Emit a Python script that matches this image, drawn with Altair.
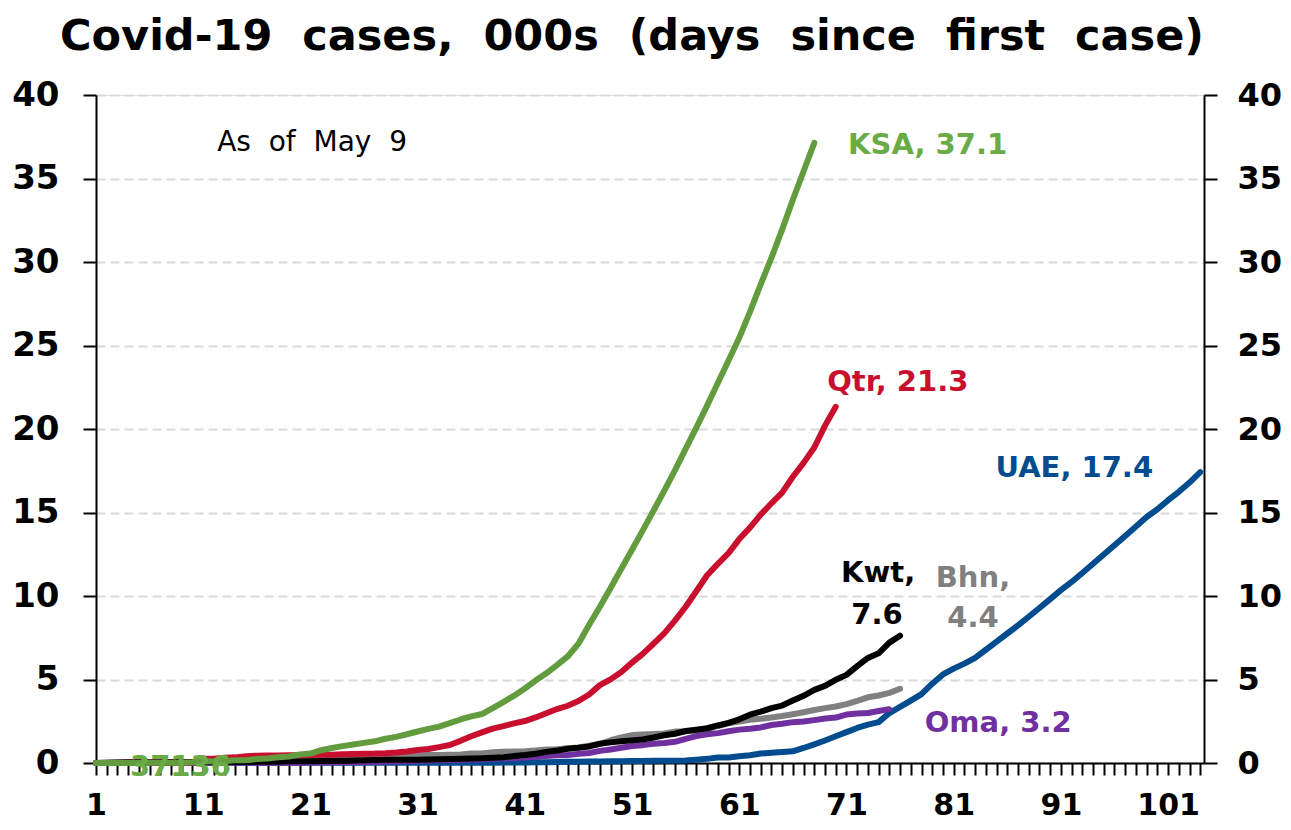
import altair as alt
import pandas as pd

# ---------------- data (thousands of cases, by day since first case) ----------------
ksa = [0.001, 0.001, 0.005, 0.005, 0.005, 0.011, 0.015, 0.020, 0.021, 0.045,
       0.086, 0.103, 0.118, 0.171, 0.171, 0.238, 0.274, 0.344, 0.392, 0.511,
       0.562, 0.767, 0.900, 1.012, 1.104, 1.203, 1.299, 1.453, 1.563, 1.720,
       1.885, 2.039, 2.179, 2.385, 2.605, 2.795, 2.932, 3.287, 3.651, 4.033,
       4.462, 4.934, 5.369, 5.862, 6.380, 7.142, 8.274, 9.362, 10.484, 11.631,
       12.772, 13.930, 15.102, 16.299, 17.522, 18.811, 20.077, 21.402, 22.753, 24.097,
       25.459, 27.011, 28.656, 30.251, 31.938, 33.731, 35.432, 37.136]

qtr = [0.001, 0.003, 0.007, 0.008, 0.008, 0.008, 0.015, 0.015, 0.018, 0.024,
       0.262, 0.262, 0.320, 0.337, 0.401, 0.439, 0.442, 0.452, 0.460, 0.470,
       0.481, 0.494, 0.501, 0.526, 0.537, 0.549, 0.562, 0.590, 0.634, 0.693,
       0.781, 0.835, 0.949, 1.075, 1.325, 1.604, 1.832, 2.057, 2.210, 2.376,
       2.512, 2.728, 2.979, 3.231, 3.428, 3.711, 4.103, 4.663, 5.008, 5.448,
       6.015, 6.533, 7.141, 7.764, 8.525, 9.358, 10.287, 11.244, 11.921, 12.564,
       13.409, 14.096, 14.872, 15.551, 16.191, 17.142, 17.972, 18.890, 20.201, 21.331]

uae = [0.004, 0.004, 0.005, 0.005, 0.005, 0.005, 0.005, 0.005, 0.005, 0.005,
       0.007, 0.007, 0.008, 0.008, 0.008, 0.008, 0.008, 0.008, 0.008, 0.008,
       0.009, 0.009, 0.009, 0.009, 0.009, 0.009, 0.013, 0.013, 0.013, 0.013,
       0.013, 0.013, 0.019, 0.019, 0.019, 0.021, 0.021, 0.021, 0.027, 0.027,
       0.029, 0.045, 0.045, 0.059, 0.074, 0.074, 0.085, 0.085, 0.098, 0.098,
       0.113, 0.113, 0.140, 0.140, 0.140, 0.153, 0.198, 0.248, 0.333, 0.333,
       0.405, 0.468, 0.570, 0.611, 0.664, 0.700, 0.900, 1.120, 1.350, 1.600,
       1.850, 2.100, 2.300, 2.450, 2.990, 3.360, 3.736, 4.123, 4.750, 5.300,
       5.650, 5.950, 6.300, 6.781, 7.265, 7.755, 8.238, 8.756, 9.281, 9.813,
       10.349, 10.839, 11.380, 11.929, 12.481, 13.038, 13.599, 14.163, 14.730, 15.192,
       15.738, 16.240, 16.793, 17.417]

kwt = [0.005, 0.011, 0.026, 0.043, 0.045, 0.045, 0.045, 0.056, 0.056, 0.056,
       0.058, 0.058, 0.061, 0.064, 0.065, 0.069, 0.072, 0.080, 0.100, 0.104,
       0.112, 0.123, 0.130, 0.142, 0.148, 0.159, 0.176, 0.188, 0.189, 0.191,
       0.195, 0.208, 0.225, 0.235, 0.255, 0.266, 0.289, 0.317, 0.342, 0.417,
       0.479, 0.556, 0.665, 0.743, 0.855, 0.910, 0.993, 1.154, 1.234, 1.300,
       1.355, 1.405, 1.524, 1.658, 1.751, 1.915, 1.995, 2.080, 2.248, 2.399,
       2.614, 2.892, 3.075, 3.288, 3.440, 3.740, 4.024, 4.377, 4.619, 4.983,
       5.278, 5.804, 6.289, 6.567, 7.208, 7.623]

bhn = [0.001, 0.008, 0.023, 0.026, 0.033, 0.038, 0.041, 0.047, 0.049, 0.049,
       0.052, 0.055, 0.060, 0.085, 0.109, 0.110, 0.189, 0.195, 0.210, 0.214,
       0.221, 0.228, 0.256, 0.278, 0.305, 0.332, 0.377, 0.392, 0.419, 0.458,
       0.466, 0.473, 0.476, 0.499, 0.515, 0.567, 0.569, 0.643, 0.672, 0.688,
       0.700, 0.756, 0.811, 0.823, 0.887, 0.925, 1.040, 1.136, 1.361, 1.528,
       1.671, 1.700, 1.740, 1.773, 1.881, 1.907, 1.952, 2.027, 2.217, 2.380,
       2.489, 2.588, 2.647, 2.723, 2.811, 2.921, 3.040, 3.170, 3.284, 3.383,
       3.524, 3.720, 3.934, 4.042, 4.199, 4.444]

oma = [0.002, 0.004, 0.004, 0.006, 0.012, 0.015, 0.016, 0.016, 0.016, 0.016,
       0.016, 0.016, 0.018, 0.018, 0.018, 0.019, 0.019, 0.020, 0.022, 0.022,
       0.024, 0.033, 0.039, 0.048, 0.052, 0.055, 0.066, 0.084, 0.099, 0.109,
       0.131, 0.152, 0.167, 0.179, 0.192, 0.210, 0.231, 0.252, 0.277, 0.298,
       0.331, 0.371, 0.419, 0.457, 0.484, 0.546, 0.599, 0.727, 0.813, 0.910,
       1.019, 1.069, 1.150, 1.200, 1.270, 1.450, 1.614, 1.716, 1.790, 1.905,
       1.998, 2.049, 2.131, 2.274, 2.348, 2.447, 2.483, 2.568, 2.660, 2.720,
       2.903, 2.958, 2.998, 3.112, 3.224]

# drawing order: first is at the back
series_names = ["UAE", "Bhn", "Oma", "Kwt", "Qtr", "KSA"]
series_values = [uae, bhn, oma, kwt, qtr, ksa]
series_colors = ["#004C8E", "#808080", "#7030A0", "#000000", "#C8102E", "#629C3F"]

# end-of-line labels
label_text = ["KSA, 37.1", "Qtr, 21.3", "UAE, 17.4", "Oma, 3.2", "Kwt,", "7.6", "Bhn,", "4.4"]
label_day = [71.15, 69.2, 84.9, 78.3, 73.95, 73.85, 82.8, 82.8]
label_pos = [37.0, 22.8, 17.66, 2.4, 11.38, 8.86, 11.08, 8.68]
label_align = ["left", "left", "left", "left", "center", "center", "center", "center"]
label_color = ["#6AAB45", "#C8102E", "#004C8E", "#7030A0", "#000000", "#000000", "#808080", "#808080"]

note_text = "As\u00a0\u00a0of\u00a0\u00a0May\u00a0\u00a09"
note_day, note_pos = 12.3, 37.1
stray_text = "37136"
stray_day, stray_pos = 4.17, -0.24

x_ticks = list(range(1, 105))
y_ticks = [0, 5, 10, 15, 20, 25, 30, 35, 40]

title_text = "Covid-19\u00a0\u00a0cases,\u00a0\u00a0000s\u00a0\u00a0(days\u00a0\u00a0since\u00a0\u00a0first\u00a0\u00a0case)"

# ---------------- tables ----------------
rows = []
for name, vals in zip(series_names, series_values):
    for i, v in enumerate(vals):
        rows.append({"country": name, "day": i + 1, "cases": v})
df = pd.DataFrame(rows)

lab = pd.DataFrame({"text": label_text, "day": label_day, "cases": label_pos,
                    "align": label_align, "color": label_color})

FONT = "DejaVu Sans"

x_scale = alt.Scale(domain=[1, 104.35], nice=False, zero=False)
y_scale = alt.Scale(domain=[0, 40], nice=False, zero=True)

x_axis = alt.Axis(
    values=x_ticks, format="d",
    labelExpr="(datum.value - 1) % 10 == 0 ? datum.label : ''",
    tickSize=12, tickWidth=2, tickColor="black",
    domainColor="black", domainWidth=2,
    labelFont=FONT, labelFontSize=30, labelFontWeight="bold", labelColor="black",
    labelPadding=15, labelOverlap=False, labelFlush=False, labelBound=False,
    grid=False, title=None,
)
y_axis_left = alt.Axis(
    values=y_ticks, orient="left", format="d",
    tickSize=13, tickWidth=2, tickColor="black",
    domainColor="black", domainWidth=2,
    labelFont=FONT, labelFontSize=34, labelFontWeight="bold", labelColor="black",
    labelPadding=24, labelOverlap=False, labelFlush=False,
    grid=True, gridColor="#D9D9D9", gridDash=[9, 5], gridWidth=2,
    title=None,
)
y_axis_right = alt.Axis(
    values=y_ticks, orient="right", format="d",
    tickSize=13, tickWidth=2, tickColor="black",
    domainColor="black", domainWidth=2,
    labelFont=FONT, labelFontSize=32, labelFontWeight="bold", labelColor="black",
    labelPadding=20, labelOverlap=False, labelFlush=False,
    grid=False, title=None,
)

X = alt.X("day:Q", scale=x_scale, axis=x_axis)
Y = alt.Y("cases:Q", scale=y_scale, axis=y_axis_left)

layers = []
for name, color in zip(series_names, series_colors):
    layers.append(
        alt.Chart(df).transform_filter(alt.datum.country == name)
        .mark_line(color=color, strokeWidth=6, strokeCap="round", strokeJoin="round")
        .encode(x=X, y=Y, order="day:Q")
    )

for al in ["left", "center"]:
    layers.append(
        alt.Chart(lab).transform_filter(alt.datum.align == al)
        .mark_text(align=al, baseline="middle", font=FONT, fontSize=29, fontWeight="bold")
        .encode(x=X, y=Y, text="text:N", color=alt.Color("color:N", scale=None))
    )

note_df = pd.DataFrame({"text": [note_text, stray_text], "day": [note_day, stray_day],
                        "cases": [note_pos, stray_pos],
                        "weight": ["normal", "bold"]})
layers.append(
    alt.Chart(note_df).transform_filter(alt.datum.weight == "normal")
    .mark_text(align="left", baseline="middle", font=FONT, fontSize=28, color="black")
    .encode(x=X, y=Y, text="text:N")
)
layers.append(
    alt.Chart(note_df).transform_filter(alt.datum.weight == "bold")
    .mark_text(align="left", baseline="middle", font=FONT, fontSize=29, fontWeight="bold",
               color="#6AAB45")
    .encode(x=X, y=Y, text="text:N")
)

inner = alt.layer(*layers)

right_df = pd.DataFrame({"day": [1, 1], "cases": [0, 40]})
right = alt.Chart(right_df).mark_point(opacity=0).encode(
    x=X, y=alt.Y("cases:Q", scale=y_scale, axis=y_axis_right)
)

chart = (
    alt.layer(inner, right)
    .resolve_scale(y="independent")
    .properties(
        width=1108, height=668,
        autosize=alt.AutoSizeParams(type="none"),
        padding={"left": 88, "top": 87, "right": 79, "bottom": 59},
        title=alt.TitleParams(text=title_text, font=FONT, fontSize=43, fontWeight="bold",
                              color="black", anchor="middle", frame="group", offset=19, dx=-18),
    )
    .configure_view(stroke=None)
    .configure(background="white")
)

chart.save("out.html", embed_options={"renderer": "svg", "actions": False})
